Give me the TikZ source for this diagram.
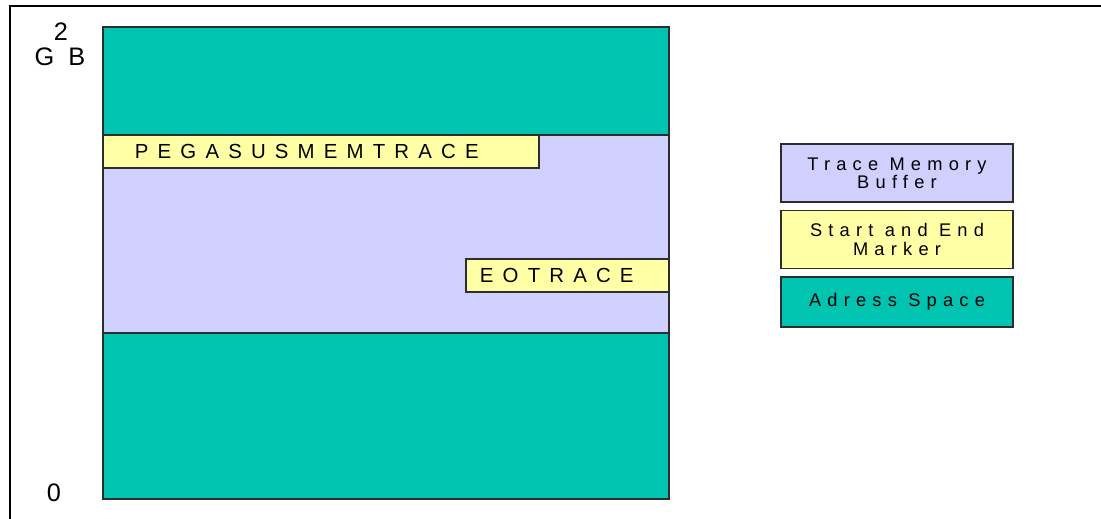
\documentclass[tikz,border=0pt]{standalone}
\usepackage{fontspec}
\setmainfont{Liberation Sans}
\newfontfamily\markfont[LetterSpace=45]{Liberation Sans}
\newfontfamily\keyfont[LetterSpace=34]{Liberation Sans}
\definecolor{addrteal}{RGB}{0,196,176}
\definecolor{buflav}{RGB}{208,208,255}
\definecolor{markyel}{RGB}{255,255,166}
\definecolor{edgegray}{RGB}{45,45,45}
\tikzset{
  region/.style={draw=edgegray,line width=0.8pt},
  marker/.style={draw=edgegray,fill=markyel,line width=0.8pt,inner ysep=0pt,
    minimum height=0.825cm,align=left,font=\markfont\fontsize{14.5}{16}\selectfont},
  keybox/.style={draw=edgegray,line width=0.8pt,inner sep=0pt,minimum width=5.8cm,
    align=center,font=\keyfont\fontsize{13}{13}\selectfont}
}
\begin{document}
\begin{tikzpicture}[x=0.025cm,y=-0.025cm]
  \useasboundingbox (0,0) rectangle (1101,519);
  % frame
  \draw[line width=0.8pt] (10,519) -- (10,6) -- (1101,6);

  % address space
  \draw[region,fill=addrteal] (103,27) rectangle (669,135);
  \draw[region,fill=buflav] (103,135) rectangle (669,333);
  \draw[region,fill=addrteal] (103,333) rectangle (669,499);

  % start and end marker
  \node[marker,inner xsep=0.8cm,text width=9.3cm] (startmark) at (321,151.5) {PEGASUSMEMTRACE};
  \node[marker,inner xsep=0.35cm,text width=4.375cm] (endmark) at (567.5,275.5) {EOTRACE};

  % axis labels
  \node[font=\fontsize{18}{20}\selectfont] (topval) at (61,32) {2};
  \node[font=\fontsize{18}{20}\selectfont] (topunit) at (60,57) {G\hspace{0.35cm}B};
  \node[font=\fontsize{18}{20}\selectfont] (botval) at (54,493) {0};

  % legend
  \node[keybox,fill=buflav,minimum height=1.45cm] (keybuf) at (897,173) {Trace Memory\\Buffer};
  \node[keybox,fill=markyel,minimum height=1.45cm] (keymark) at (897,239.5) {Start and End\\Marker};
  \node[keybox,fill=addrteal,minimum height=1.25cm] (keyaddr) at (897,302) {Adress Space};
\end{tikzpicture}
\end{document}
